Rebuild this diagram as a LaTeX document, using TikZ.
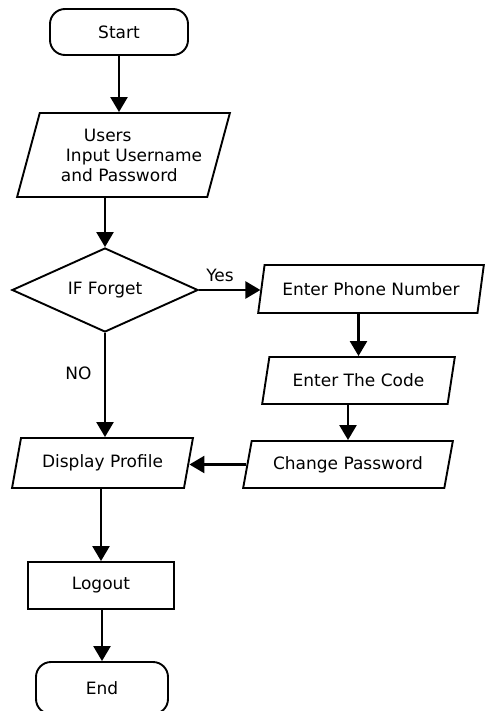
\documentclass[tikz,border=0pt]{standalone}
\usepackage{fontspec}
\setmainfont{DejaVu Sans}
\usetikzlibrary{arrows.meta,shapes.geometric}

\begin{document}
\begin{tikzpicture}[x=1pt,y=-1pt,every node/.style={font=\fontsize{17}{20}\selectfont},
  term/.style={draw,line width=1.9pt,rounded corners=15pt,minimum width=138pt,minimum height=46pt},
  io/.style={draw,line width=1.9pt,trapezium,trapezium left angle=68,trapezium right angle=112,
    trapezium stretches=true,minimum height=48pt,inner sep=0pt},
  proc/.style={draw,line width=1.9pt,minimum width=146pt,minimum height=47pt},
  decision/.style={draw,line width=1.9pt,diamond,aspect=2.2,inner sep=0pt,minimum width=186pt,minimum height=84pt},
  flow/.style={line width=2.5pt,-{Triangle[length=15pt,width=17pt]}}]
  \useasboundingbox (0,0) rectangle (486,711);
  % left column
  \node[term] (start) at (119,32) {Start};
  \node[io,minimum width=213pt,minimum height=84pt,align=left] (input) at (123.5,155)
    {\hspace*{39pt}Users\\\hspace*{21pt}Input Username\\\hspace*{16pt}and Password};
  \node[decision] (forget) at (105,290) {IF Forget};
  \node[io,minimum width=181pt,minimum height=50pt] (profile) at (102.5,463) {Display Profile};
  \node[proc] (logout) at (101,585.5) {Logout};
  \node[term,minimum width=132pt,minimum height=52pt] (stop) at (102,688) {End};
  % right column
  \node[io,minimum width=226pt] (phone) at (371,289) {Enter Phone Number};
  \node[io,minimum width=193pt,minimum height=47pt] (code) at (358.5,380.5) {Enter The Code};
  \node[io,minimum width=210pt,minimum height=47pt] (change) at (348,464.5) {Change Password};
  \node (yes) at (220,275) {Yes};
  \node (no) at (78.5,373) {NO};

  \draw[flow] (start) -- (start |- input.north);
  \draw[flow] (forget.north |- input.south) -- (forget.north);
  \draw[flow] (forget.east) -- (forget.east -| phone.west);
  \draw[flow] (code.north |- phone.south) -- (code.north);
  \draw[flow] (change.north |- code.south) -- (change.north);
  \draw[flow] (change.west) -- (change.west -| profile.east);
  \draw[flow] (forget.south) -- (forget.south |- profile.north);
  \draw[flow] (logout.north |- profile.south) -- (logout.north);
  \draw[flow] (stop.north |- logout.south) -- (stop.north);
\end{tikzpicture}
\end{document}
